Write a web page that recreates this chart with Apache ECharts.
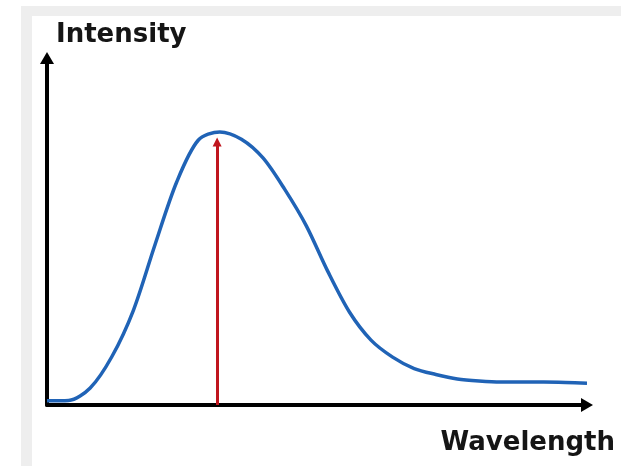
<!DOCTYPE html>
<html>
<head>
<meta charset="utf-8">
<script src="https://cdn.jsdelivr.net/npm/echarts@6/dist/echarts.min.js"></script>
<style>
  html, body { margin: 0; padding: 0; background: #fff; }
  #frame { position: absolute; left: 21px; top: 6px; right: 0; bottom: 0; background: #eeeeee; }
  #inner { position: absolute; left: 32px; top: 16px; right: 0; bottom: 0; background: #ffffff; }
  #chart { position: absolute; left: 0; top: 0; width: 621px; height: 466px; }
</style>
</head>
<body>
<div id="frame"></div>
<div id="inner"></div>
<div id="chart"></div>
<script>
// Wavelength (arbitrary units, 0-100) and intensity (arbitrary units, 0-100)
const wavelength = [0, 4, 8, 12, 16, 20, 24, 28, 32, 36, 40, 44, 48, 52, 56, 60, 64, 68, 72, 76, 80, 84, 88, 92, 96, 100];
const intensity  = [1.2, 1.3, 4.9, 13.9, 27.3, 46.2, 64.2, 76.3, 78.7, 76.6, 71.2, 62.2, 51.7, 38.5, 26.8, 18.7, 13.8, 10.5, 8.8, 7.5, 6.9, 6.6, 6.6, 6.6, 6.5, 6.3];
// Peak wavelength marker (x) and its arrow's start/end intensity
const peakWavelength = [31.5];
const peakArrowIntensity = [0, 75.8];
const axisNames = ['Wavelength', 'Intensity'];

const curve = wavelength.map((x, i) => [x, intensity[i]]);

const chart = echarts.init(document.getElementById('chart'), null, { renderer: 'canvas' });
const nameFont = { fontFamily: 'DejaVu Sans', fontWeight: 'bold', fontSize: 26, color: '#151515' };
chart.setOption({
  backgroundColor: 'transparent',
  animation: false,
  grid: { left: 47, right: 34, top: 58, bottom: 61, containLabel: false },
  xAxis: {
    type: 'value', min: 0, max: 100,
    name: axisNames[0], nameLocation: 'end', nameGap: 28,
    nameTextStyle: Object.assign({ align: 'right', verticalAlign: 'top', padding: [25, 0, 0, 0] }, nameFont),
    axisLine: { show: true, symbol: ['none', 'triangle'], symbolSize: [14, 12], lineStyle: { color: '#000', width: 4 } },
    axisTick: { show: false }, axisLabel: { show: false }, splitLine: { show: false }
  },
  yAxis: {
    type: 'value', min: 0, max: 100,
    name: axisNames[1], nameLocation: 'end', nameGap: 10,
    nameTextStyle: Object.assign({ align: 'left', verticalAlign: 'bottom', padding: [0, 0, 0, 9] }, nameFont),
    axisLine: { show: true, symbol: ['none', 'triangle'], symbolSize: [14, 12], lineStyle: { color: '#000', width: 4 } },
    axisTick: { show: false }, axisLabel: { show: false }, splitLine: { show: false }
  },
  series: [{
    type: 'line',
    data: curve,
    smooth: 0.3,
    showSymbol: false,
    lineStyle: { color: '#2063b6', width: 3.5 },
    z: 3,
    markLine: {
      silent: true,
      symbol: ['none', 'triangle'],
      symbolSize: 9,
      label: { show: false },
      lineStyle: { color: '#c0161e', width: 3, type: 'solid' },
      emphasis: { disabled: true },
      data: [[
        { coord: [peakWavelength[0], peakArrowIntensity[0]] },
        { coord: [peakWavelength[0], peakArrowIntensity[1]] }
      ]]
    }
  }]
});
</script>
</body>
</html>
